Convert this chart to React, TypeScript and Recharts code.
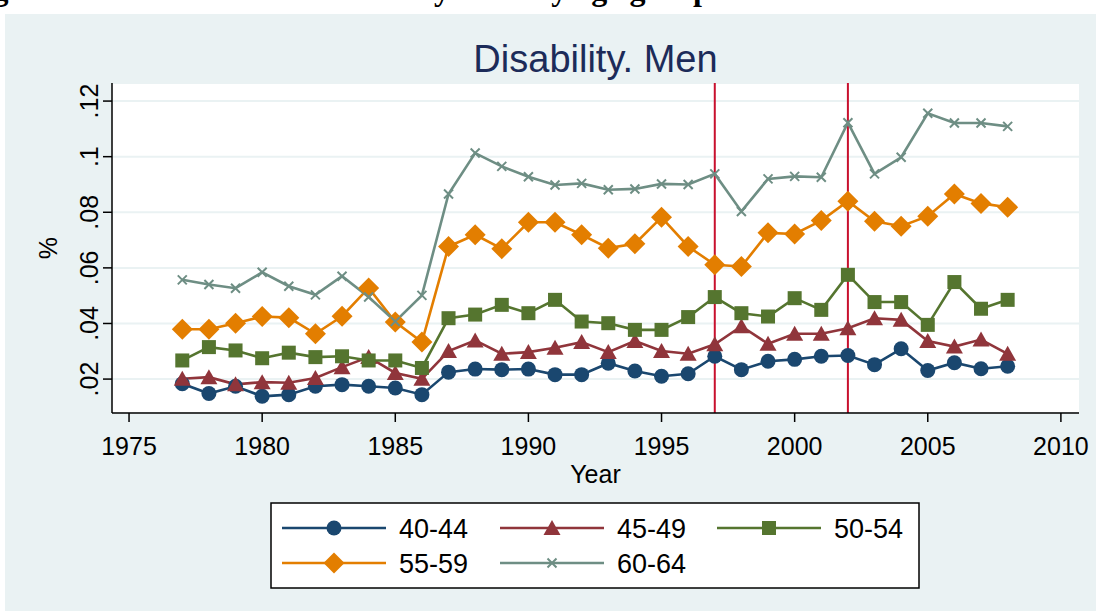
import { LineChart, Line, XAxis, YAxis, CartesianGrid, ReferenceLine } from "recharts";

const years = [
  1977, 1978, 1979, 1980, 1981, 1982, 1983, 1984, 1985, 1986, 1987, 1988, 1989, 1990, 1991, 1992,
  1993, 1994, 1995, 1996, 1997, 1998, 1999, 2000, 2001, 2002, 2003, 2004, 2005, 2006, 2007, 2008,
];

const age4044 = [
  0.0183, 0.0148, 0.0174, 0.0138, 0.0144, 0.0174, 0.018, 0.0174, 0.0168, 0.0144, 0.0225, 0.0236,
  0.0234, 0.0236, 0.0216, 0.0216, 0.0257, 0.0229, 0.021, 0.0219, 0.0282, 0.0234, 0.0264, 0.0271,
  0.0282, 0.0285, 0.0252, 0.0309, 0.0231, 0.0259, 0.0237, 0.0246,
];
const age4549 = [
  0.0201, 0.0207, 0.0181, 0.0189, 0.0187, 0.0204, 0.0243, 0.0279, 0.0222, 0.0201, 0.0301, 0.0339,
  0.0291, 0.0297, 0.0313, 0.0333, 0.0297, 0.0337, 0.0301, 0.0291, 0.0325, 0.039, 0.0327, 0.0363,
  0.0363, 0.0383, 0.0419, 0.0413, 0.0337, 0.0317, 0.0342, 0.0291,
];
const age5054 = [
  0.0267, 0.0315, 0.0303, 0.0275, 0.0295, 0.0279, 0.0282, 0.0267, 0.0267, 0.024, 0.0419, 0.0432,
  0.0467, 0.0437, 0.0485, 0.0407, 0.0401, 0.0377, 0.0377, 0.0423, 0.0495, 0.0437, 0.0425, 0.0491,
  0.0449, 0.0575, 0.0477, 0.0477, 0.0395, 0.0549, 0.0453, 0.0485,
];
const age5559 = [
  0.0379, 0.0379, 0.0401, 0.0425, 0.0421, 0.0363, 0.0426, 0.0528, 0.0405, 0.0333, 0.0677, 0.0719,
  0.0669, 0.0764, 0.0764, 0.0719, 0.0671, 0.0687, 0.0782, 0.0677, 0.0611, 0.0605, 0.0726, 0.0722,
  0.077, 0.084, 0.0768, 0.075, 0.0786, 0.0866, 0.0832, 0.0818,
];
const age6064 = [
  0.0557, 0.054, 0.0527, 0.0584, 0.0534, 0.0503, 0.057, 0.0495, 0.0407, 0.0501, 0.0866, 0.1013,
  0.0965, 0.0928, 0.0898, 0.0904, 0.0881, 0.0884, 0.0902, 0.09, 0.0938, 0.0803, 0.092, 0.0929,
  0.0926, 0.1122, 0.0938, 0.0998, 0.1156, 0.1121, 0.1121, 0.1109,
];

const xTicks = [1975, 1980, 1985, 1990, 1995, 2000, 2005, 2010];
const yTicks = [0.02, 0.04, 0.06, 0.08, 0.1, 0.12];
const yTickLabels = [".02", ".04", ".06", ".08", ".1", ".12"];
const reformYears = [1997, 2002];

const data = years.map((year, i) => ({
  year,
  a4044: age4044[i],
  a4549: age4549[i],
  a5054: age5054[i],
  a5559: age5559[i],
  a6064: age6064[i],
}));

const FONT = "'Liberation Sans', Arial, sans-serif";

type Shape = "circle" | "triangle" | "square" | "diamond" | "x";

const series: { key: string; name: string; color: string; shape: Shape }[] = [
  { key: "a4044", name: "40-44", color: "#1a476f", shape: "circle" },
  { key: "a4549", name: "45-49", color: "#90353b", shape: "triangle" },
  { key: "a5054", name: "50-54", color: "#55752f", shape: "square" },
  { key: "a5559", name: "55-59", color: "#e37e00", shape: "diamond" },
  { key: "a6064", name: "60-64", color: "#6e8e84", shape: "x" },
];

function Marker({ cx, cy, shape, color }: { cx: number; cy: number; shape: Shape; color: string }) {
  if (cx == null || cy == null) return null;
  switch (shape) {
    case "circle":
      return <circle cx={cx} cy={cy} r={7.5} fill={color} />;
    case "triangle":
      return <polygon points={`${cx - 8.5},${cy + 7} ${cx + 8.5},${cy + 7} ${cx},${cy - 8}`} fill={color} />;
    case "square":
      return <rect x={cx - 7} y={cy - 7} width={14} height={14} fill={color} />;
    case "diamond":
      return <polygon points={`${cx},${cy - 10.5} ${cx + 10.5},${cy} ${cx},${cy + 10.5} ${cx - 10.5},${cy}`} fill={color} />;
    default:
      return (
        <path d={`M${cx - 4.5},${cy - 4.5}L${cx + 4.5},${cy + 4.5}M${cx - 4.5},${cy + 4.5}L${cx + 4.5},${cy - 4.5}`} stroke={color} strokeWidth={2} />
      );
  }
}

function YTick(props: any) {
  const { x, y, payload } = props;
  const idx = yTicks.indexOf(payload.value);
  const lx = x - 3;
  return (
    <text x={lx} y={y} transform={`rotate(-90, ${lx}, ${y})`} textAnchor="middle" fontSize={25} fontFamily={FONT} fill="#000">
      {idx >= 0 ? yTickLabels[idx] : payload.value}
    </text>
  );
}

const legendCols = [282, 500, 717];
const legendRows = [528, 563];

export default function App() {
  return (
    <div style={{ position: "fixed", left: 0, top: 0, width: 1096, height: 611, overflow: "hidden", background: "#fff" }}>
      <div style={{ position: "absolute", left: 5, top: 14, width: 1091, height: 597, background: "#eaf2f3" }} />
      <svg width={1096} height={611} style={{ position: "absolute", left: 0, top: 0 }}>
        {/* caption of the source page, cut off at the top edge */}
        <text x={-36} y={0} fontSize={32} fontWeight="bold" fontFamily="'Liberation Serif', 'Times New Roman', serif" fill="#000">
          Figure 3. The evolution of disability rates by age group
        </text>
        <text x={595.5} y={72} textAnchor="middle" fontSize={38} fontFamily={FONT} fill="#1c2b59">
          Disability. Men
        </text>
        <text x={595.5} y={483} textAnchor="middle" fontSize={25} fontFamily={FONT} fill="#000">
          Year
        </text>
        <text x={57} y={248} transform="rotate(-90, 57, 248)" textAnchor="middle" fontSize={25} fontFamily={FONT} fill="#000">
          %
        </text>
        <rect x={271} y={503} width={648} height={85} fill="#fff" stroke="#000" strokeWidth={1.5} />
        {series.map((s, i) => {
          const x0 = legendCols[i % 3];
          const y0 = legendRows[Math.floor(i / 3)];
          return (
            <g key={s.key}>
              <line x1={x0} x2={x0 + 104} y1={y0} y2={y0} stroke={s.color} strokeWidth={2.6} />
              <Marker cx={x0 + 52} cy={y0} shape={s.shape} color={s.color} />
              <text x={x0 + 117} y={y0 + 10} fontSize={27} fontFamily={FONT} fill="#000">
                {s.name}
              </text>
            </g>
          );
        })}
      </svg>
      <div style={{ position: "absolute", left: 0, top: 0 }}>
        <LineChart width={1096} height={611} data={data} margin={{ top: 83, right: 17, bottom: 158, left: 52 }}>
          <CartesianGrid vertical={false} horizontal fill="#fff" stroke="#eaf2f3" strokeWidth={2} />
          <XAxis
            dataKey="year"
            type="number"
            domain={[1974.36, 2010.68]}
            ticks={xTicks}
            interval={0}
            allowDataOverflow
            height={40}
            axisLine={{ stroke: "#000", strokeWidth: 1.5 }}
            tickLine={{ stroke: "#000", strokeWidth: 1.5 }}
            tickSize={9}
            tickMargin={15}
            tick={{ fontSize: 25, fontFamily: FONT, fill: "#000" }}
          />
          <YAxis
            type="number"
            domain={[0.0078, 0.1265]}
            ticks={yTicks}
            interval={0}
            allowDataOverflow
            width={60}
            axisLine={{ stroke: "#000", strokeWidth: 1.5 }}
            tickLine={{ stroke: "#000", strokeWidth: 1.5 }}
            tickSize={9}
            tick={<YTick />}
          />
          {reformYears.map((yr) => (
            <ReferenceLine key={yr} x={yr} stroke="#c8102e" strokeWidth={2} />
          ))}
          {series.map((s) => (
            <Line
              key={s.key}
              dataKey={s.key}
              name={s.name}
              stroke={s.color}
              strokeWidth={2.6}
              isAnimationActive={false}
              dot={(p: any) => <Marker key={`${s.key}-${p.index}`} cx={p.cx} cy={p.cy} shape={s.shape} color={s.color} />}
              activeDot={false}
            />
          ))}
        </LineChart>
      </div>
    </div>
  );
}
